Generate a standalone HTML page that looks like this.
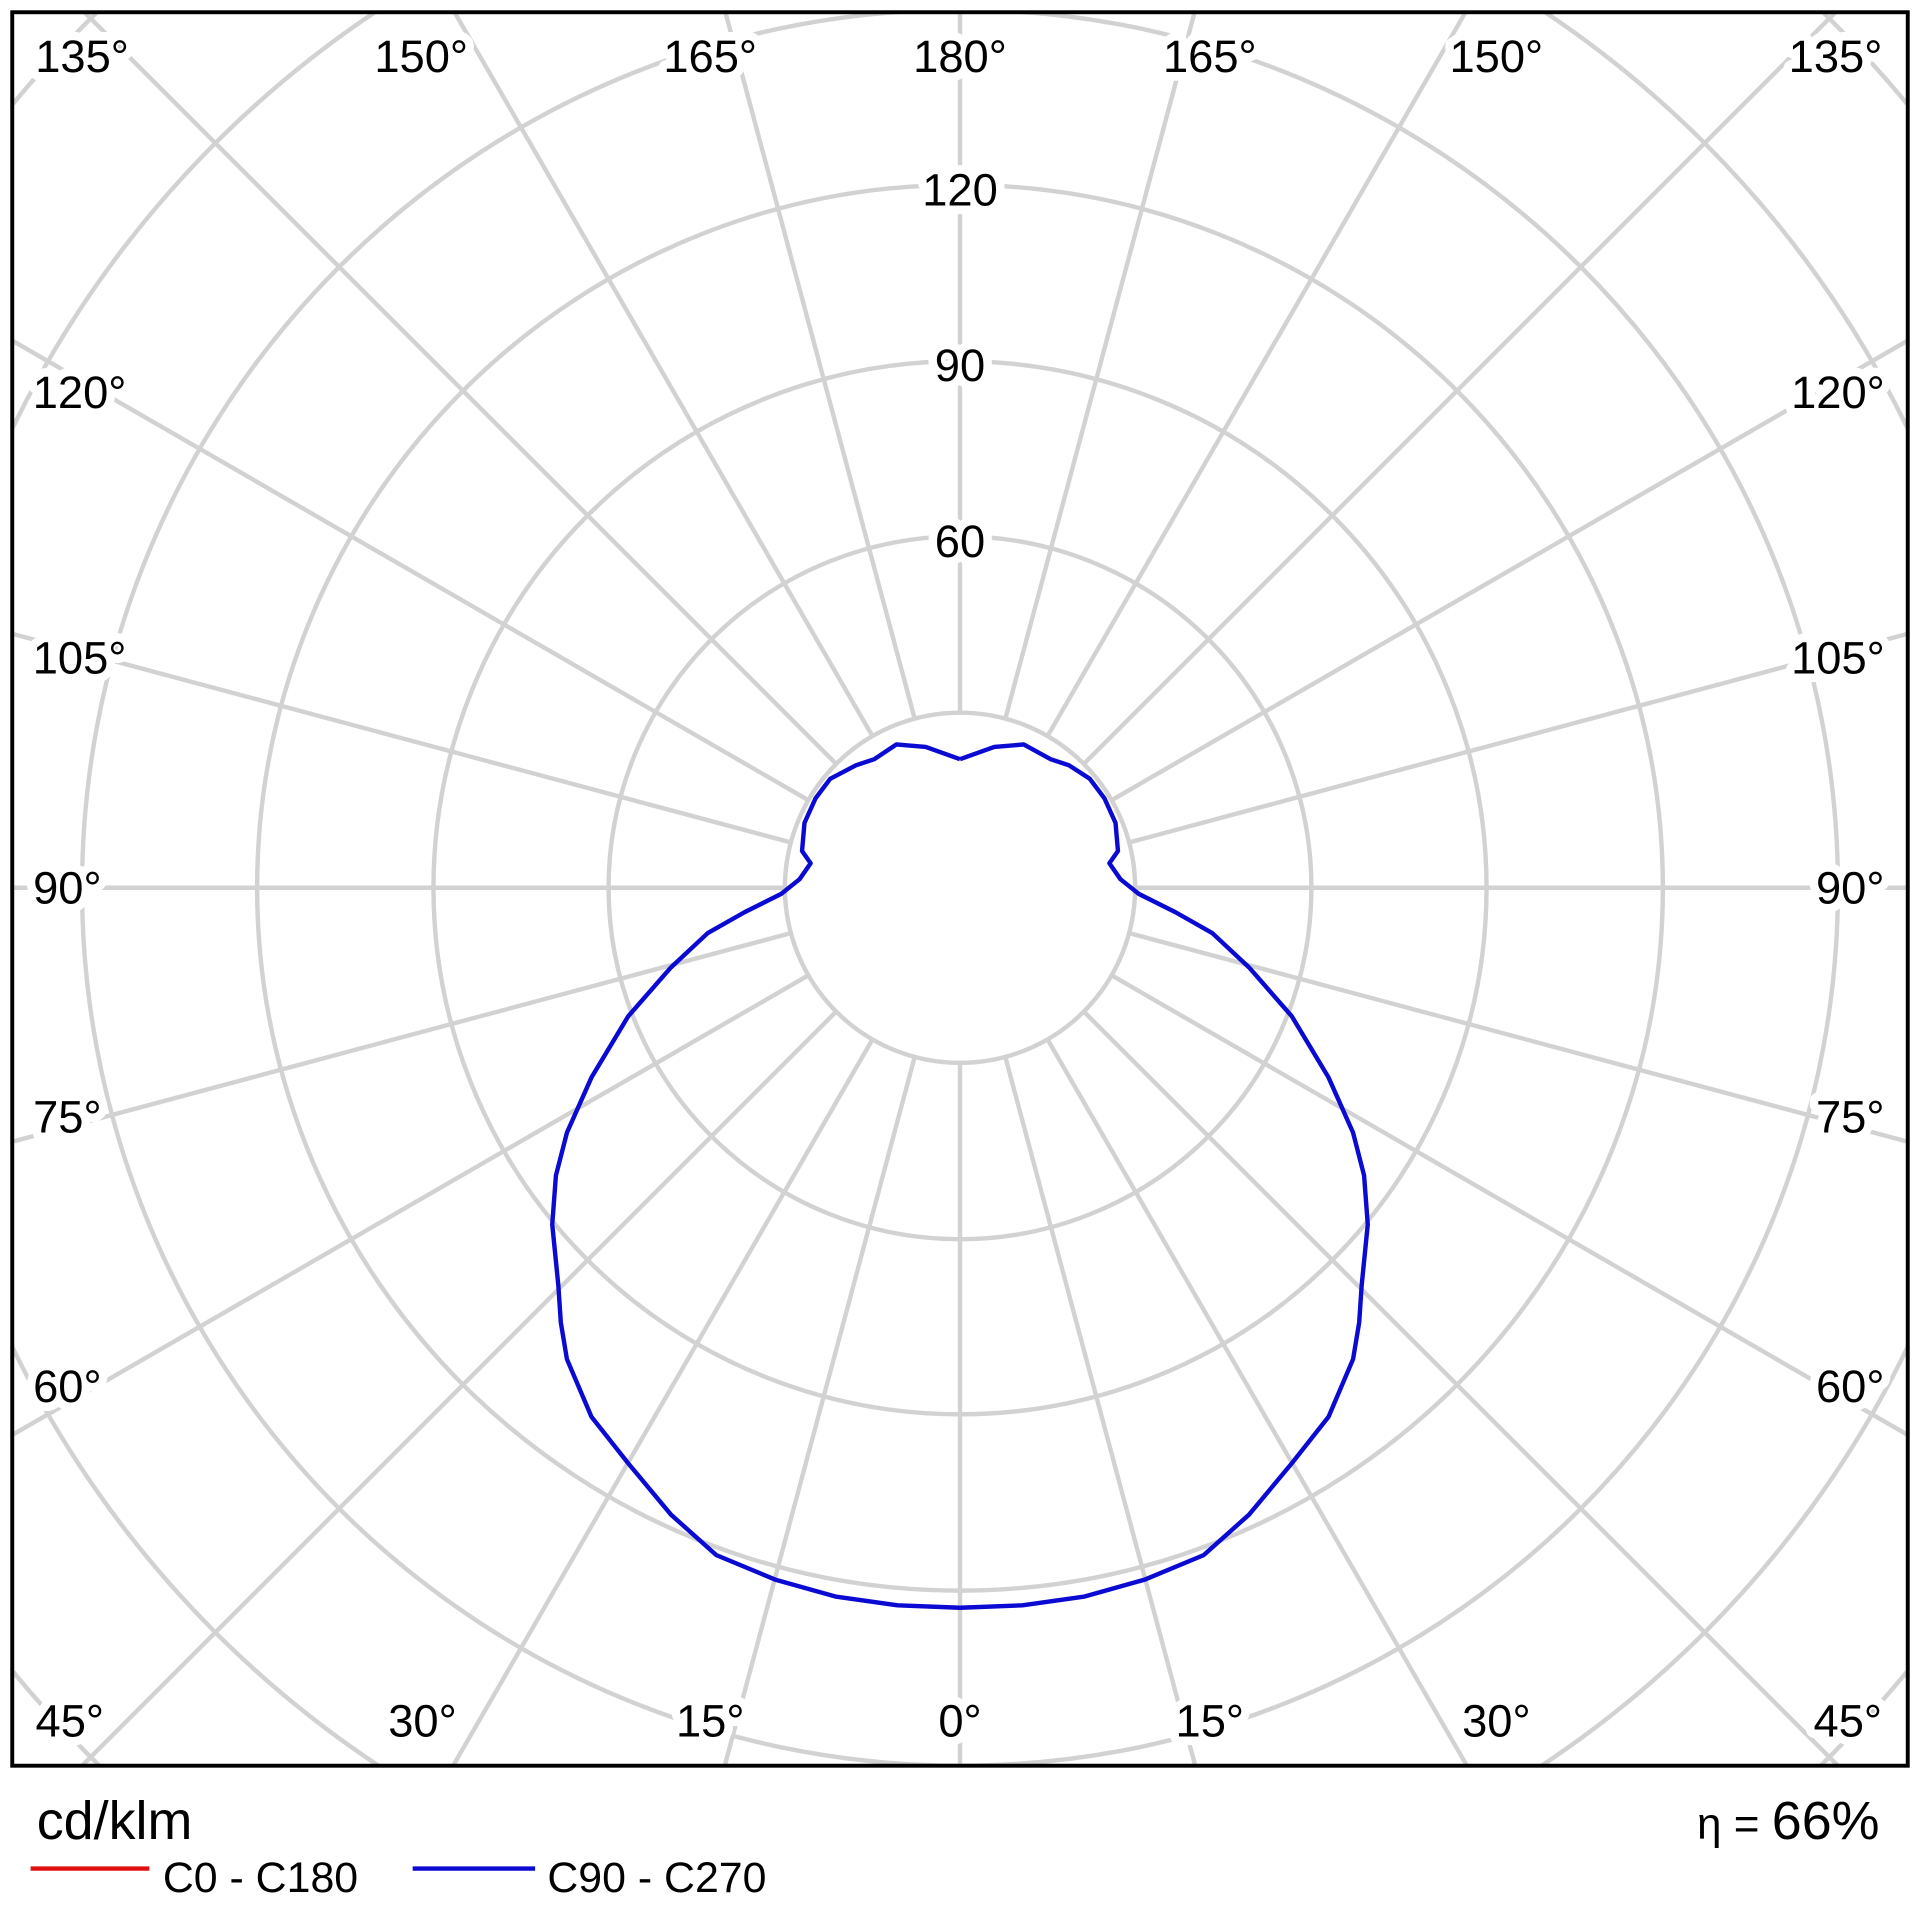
<!DOCTYPE html>
<html><head><meta charset="utf-8"><style>html,body{margin:0;padding:0;background:#fff;width:1920px;height:1920px;overflow:hidden}svg{display:block}</style></head>
<body>
<svg width="1920" height="1920" viewBox="0 0 1568 1568" xmlns="http://www.w3.org/2000/svg" font-family="Liberation Sans, DejaVu Sans, sans-serif">
<defs><clipPath id="c"><rect x="10" y="10" width="1548" height="1432"/></clipPath></defs>
<rect width="1568" height="1568" fill="#fff"/>
<g clip-path="url(#c)" stroke="#d2d2d2" stroke-width="3.6" fill="none">
<circle cx="784" cy="725" r="143"/>
<circle cx="784" cy="725" r="287"/>
<circle cx="784" cy="725" r="430"/>
<circle cx="784" cy="725" r="574"/>
<circle cx="784" cy="725" r="717"/>
<circle cx="784" cy="725" r="860"/>
<circle cx="784" cy="725" r="1004"/>
<g id="sp">
<line x1="784" y1="868" x2="784" y2="2000"/>
<line x1="784" y1="868" x2="784" y2="2000" transform="rotate(15 784 725)"/>
<line x1="784" y1="868" x2="784" y2="2000" transform="rotate(30 784 725)"/>
<line x1="784" y1="868" x2="784" y2="2000" transform="rotate(45 784 725)"/>
<line x1="784" y1="868" x2="784" y2="2000" transform="rotate(60 784 725)"/>
<line x1="784" y1="868" x2="784" y2="2000" transform="rotate(75 784 725)"/>
<line x1="784" y1="868" x2="784" y2="2000" transform="rotate(90 784 725)"/>
<line x1="784" y1="868" x2="784" y2="2000" transform="rotate(105 784 725)"/>
<line x1="784" y1="868" x2="784" y2="2000" transform="rotate(120 784 725)"/>
<line x1="784" y1="868" x2="784" y2="2000" transform="rotate(135 784 725)"/>
<line x1="784" y1="868" x2="784" y2="2000" transform="rotate(150 784 725)"/>
<line x1="784" y1="868" x2="784" y2="2000" transform="rotate(165 784 725)"/>
</g>
<use href="#sp" transform="rotate(180 784 725)"/>
</g>
<polyline fill="none" stroke="#0a0ad2" stroke-width="3.6" stroke-linejoin="round"
points="784,620 756,610 732,608 714,620 699,625 678,636 666,652 657,672 655,695 662,705 653,718 638,730 608,745 578,762 548,790 513,830 483,880 463,925 454,960 451,1000 456,1050 458,1080 463,1110 483,1157 513,1195 548,1237 585,1270 633,1290 683,1304 733,1311 784,1313 835,1311 885,1304 935,1290 983,1270 1020,1237 1055,1195 1085,1157 1105,1110 1110,1080 1112,1050 1117,1000 1114,960 1105,925 1085,880 1055,830 1020,790 990,762 960,745 930,730 915,718 906,705 913,695 911,672 902,652 890,636 873,625 858,620 836,608 812,610 784,620"/>
<rect x="10" y="10" width="1548" height="1432" fill="none" stroke="#000" stroke-width="3.2"/>
<g font-size="37" fill="#000" text-anchor="middle" stroke="#fff" stroke-width="14" paint-order="stroke" stroke-linejoin="round">
<text x="67" y="59">135°</text><text x="344" y="59">150°</text><text x="580" y="59">165°</text><text x="784" y="59">180°</text>
<text x="988" y="59">165°</text><text x="1222" y="59">150°</text><text x="1499" y="59">135°</text>
<text x="65" y="333">120°</text><text x="1501" y="333">120°</text>
<text x="65" y="550">105°</text><text x="1501" y="550">105°</text>
<text x="55" y="738">90°</text><text x="1511" y="738">90°</text>
<text x="55" y="925">75°</text><text x="1511" y="925">75°</text>
<text x="55" y="1145">60°</text><text x="1511" y="1145">60°</text>
<text x="57" y="1418">45°</text><text x="345" y="1418">30°</text><text x="580" y="1418">15°</text><text x="784" y="1418">0°</text>
<text x="988" y="1418">15°</text><text x="1222" y="1418">30°</text><text x="1509" y="1418">45°</text>
<text x="784" y="168">120</text><text x="784" y="311">90</text><text x="784" y="455">60</text>
</g>
<g fill="#000">
<text x="30" y="1502" font-size="44">cd/klm</text>
<text x="1535" y="1502" font-size="44" text-anchor="end"><tspan font-size="36">η = </tspan>66%</text>
<line x1="25" y1="1526" x2="122" y2="1526" stroke="#e01010" stroke-width="3.6"/>
<text x="133" y="1545" font-size="35">C0 - C180</text>
<line x1="337" y1="1526" x2="437" y2="1526" stroke="#0a0ad2" stroke-width="3.6"/>
<text x="447" y="1545" font-size="35">C90 - C270</text>
</g>
</svg>
</body></html>
